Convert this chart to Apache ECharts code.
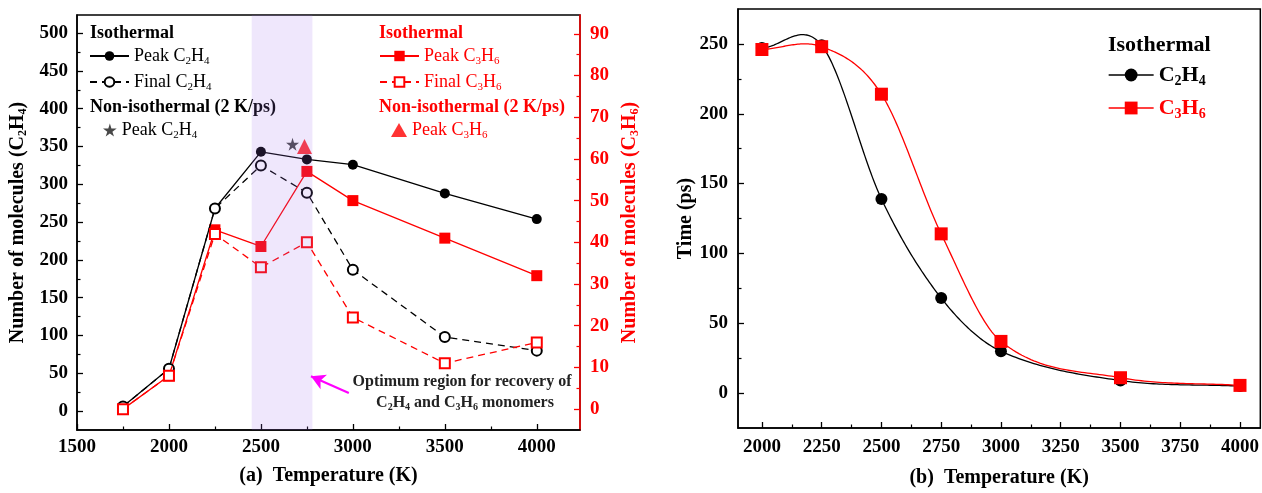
<!DOCTYPE html>
<html>
<head>
<meta charset="utf-8">
<script src="https://cdn.jsdelivr.net/npm/echarts@6/dist/echarts.min.js"></script>
<style>
  html, body { margin: 0; padding: 0; background: #fff; }
  #chart { width: 1262px; height: 493px; }
</style>
</head>
<body>
<div id="chart"></div>
<script>
// ---- Panel (a): molecule counts vs temperature ----
const temperaturesA = [1750, 2000, 2250, 2500, 2750, 3000, 3500, 4000];
const peakC2H4  = [6, 56, 268, 343, 333, 326, 288, 254];
const finalC2H4 = [6, 56, 268, 325, 289, 187, 98, 80];
const peakC3H6  = [0, 8, 43, 39, 57, 50, 41, 32];
const finalC3H6 = [0, 8, 42, 34, 40, 22, 11, 16];
const nonIsoPeakC2H4 = [[2672, 353]];
const nonIsoPeakC3H6 = [[2737, 63]];
const optimumRange = [2450, 2780];
const optimumArrow = [[2978, 24], [2772, 46]];

// ---- Panel (b): time vs temperature ----
const temperaturesB = [2000, 2250, 2500, 2750, 3000, 3500, 4000];
const timeC2H4 = [247, 249, 139, 68, 30, 9, 5];
const timeC3H6 = [246, 248, 214, 114, 37, 11, 5.5];

// ---- Tick values ----
const xTicksA = [1500, 2000, 2500, 3000, 3500, 4000];
const xMinorA = [1750, 2250, 2750, 3250, 3750];
const yTicksA = [0, 50, 100, 150, 200, 250, 300, 350, 400, 450, 500];
const yMinorA = [25, 75, 125, 175, 225, 275, 325, 375, 425, 475];
const y2TicksA = [0, 10, 20, 30, 40, 50, 60, 70, 80, 90];
const y2MinorA = [5, 15, 25, 35, 45, 55, 65, 75, 85];
const xTicksB = [2000, 2250, 2500, 2750, 3000, 3250, 3500, 3750, 4000];
const xMinorB = [2125, 2375, 2625, 2875, 3125, 3375, 3625, 3875];
const yTicksB = [0, 50, 100, 150, 200, 250];
const yMinorB = [25, 75, 125, 175, 225];

const SERIF = "'Liberation Serif', 'Times New Roman', serif";
const RED = '#ff0000';
const BLACK = '#000000';

const zipXY = (xs, ys) => xs.map((x, i) => [x, ys[i]]);

function richSet(size, color, weight) {
  const sub = Math.round(size * 0.62);
  return {
    t: { fontFamily: SERIF, fontSize: size, fontWeight: weight, color: color },
    s: { fontFamily: SERIF, fontSize: sub, fontWeight: weight, color: color, padding: [Math.round(size * 0.55), 0, 0, 0] }
  };
}
// "C2H4" -> rich text with subscripts
function chem(formulaText) {
  return formulaText.replace(/([A-Za-z\(\) \/]+)|(\d+)/g, (m, word, num) => word ? '{t|' + word + '}' : '{s|' + num + '}');
}

// Cubic Hermite (Catmull-Rom style) spline through the measured points
function hermiteSpline(xs, ys) {
  const n = xs.length - 1;
  const m = xs.map((x, i) => {
    if (i === 0) return (ys[1] - ys[0]) / (xs[1] - xs[0]);
    if (i === n) return (ys[n] - ys[n - 1]) / (xs[n] - xs[n - 1]);
    return (ys[i + 1] - ys[i - 1]) / (xs[i + 1] - xs[i - 1]);
  });
  return function (x) {
    let i = 0;
    while (i < n - 1 && x > xs[i + 1]) i++;
    const h = xs[i + 1] - xs[i];
    const t = (x - xs[i]) / h, t2 = t * t, t3 = t2 * t;
    return (2 * t3 - 3 * t2 + 1) * ys[i] + (t3 - 2 * t2 + t) * h * m[i]
      + (-2 * t3 + 3 * t2) * ys[i + 1] + (t3 - t2) * h * m[i + 1];
  };
}

function splineSeries(xs, ys, color, xIdx, yIdx) {
  const f = hermiteSpline(xs, ys);
  return {
    type: 'custom', xAxisIndex: xIdx, yAxisIndex: yIdx, z: 1, silent: true,
    data: zipXY(xs, ys),
    renderItem: function (params, api) {
      if (params.dataIndex !== 0) return;
      const pts = [];
      for (let i = 0; i < xs.length - 1; i++) {
        const steps = 40;
        for (let k = 0; k < steps; k++) {
          const x = xs[i] + (xs[i + 1] - xs[i]) * k / steps;
          pts.push(api.coord([x, f(x)]));
        }
      }
      pts.push(api.coord([xs[xs.length - 1], ys[ys.length - 1]]));
      return { type: 'polyline', shape: { points: pts }, style: { stroke: color, lineWidth: 1.3, fill: null } };
    }
  };
}

function mainAxis(extra, color, labelMargin, ticks) {
  return Object.assign({
    type: 'value',
    axisLine: { show: true, onZero: false, lineStyle: { color: color, width: 1.5 } },
    axisTick: { show: true, inside: true, length: 6, customValues: ticks, lineStyle: { color: color, width: 1.3 } },
    axisLabel: { customValues: ticks, margin: labelMargin, color: color, fontFamily: SERIF, fontWeight: 'bold', fontSize: 19,
      formatter: v => String(v) },
    splitLine: { show: false }
  }, extra);
}
function minorAxis(extra, color, ticks) {
  return Object.assign({
    type: 'value',
    axisLine: { show: false, onZero: false },
    axisTick: { show: true, inside: true, length: 3.5, customValues: ticks, lineStyle: { color: color, width: 1.2 } },
    axisLabel: { show: false },
    splitLine: { show: false }
  }, extra);
}

const legendText = {
  'Peak C2H4 iso': chem('Peak C2H4'),
  'Final C2H4 iso': chem('Final C2H4'),
  'Peak C2H4 noniso': chem('Peak C2H4'),
  'Peak C3H6 iso': chem('Peak C3H6'),
  'Final C3H6 iso': chem('Final C3H6'),
  'Peak C3H6 noniso': chem('Peak C3H6'),
  'C2H4 time': chem('C2H4'),
  'C3H6 time': chem('C3H6')
};

function legendItem(name, left, top, color, size, itemW, itemH, weight, lineStyle) {
  const lg = {
    data: [name], left: left, top: top, orient: 'vertical', padding: 0,
    itemWidth: itemW, itemHeight: itemH, selectedMode: false,
    formatter: n => legendText[n],
    textStyle: { color: color, fontFamily: SERIF, fontSize: size, fontWeight: weight, rich: richSet(size, color, weight) }
  };
  if (lineStyle) lg.lineStyle = lineStyle;
  return lg;
}

function headerText(text, x, y, color, size) {
  return {
    type: 'text', x: x, y: y, z: 0,
    style: { text: text, fill: color, fontFamily: SERIF, fontWeight: 'bold', fontSize: size, verticalAlign: 'middle' }
  };
}

const starPath = 'path://M50,0 L61,35 L98,35 L68,57 L79,91 L50,70 L21,91 L32,57 L2,35 L39,35 Z';

const option = {
  backgroundColor: '#fff',
  animation: false,
  grid: [
    { left: 77, top: 15, width: 503, height: 415, show: true, borderColor: BLACK, borderWidth: 1.5 },
    { left: 738, top: 9, width: 523, height: 426, show: true, borderColor: BLACK, borderWidth: 1.5 }
  ],
  xAxis: [
    mainAxis({ gridIndex: 0, position: 'bottom', min: 1500, max: 4235,
      name: '(a)  Temperature (K)', nameLocation: 'middle', nameGap: 36,
      nameTextStyle: { fontFamily: SERIF, fontWeight: 'bold', fontSize: 20, color: BLACK } }, BLACK, 8, xTicksA),
    minorAxis({ gridIndex: 0, position: 'bottom', min: 1500, max: 4235 }, BLACK, xMinorA),
    mainAxis({ gridIndex: 1, position: 'bottom', min: 1900, max: 4085,
      name: '(b)  Temperature (K)', nameLocation: 'middle', nameGap: 40,
      nameTextStyle: { fontFamily: SERIF, fontWeight: 'bold', fontSize: 20, color: BLACK } }, BLACK, 10, xTicksB),
    minorAxis({ gridIndex: 1, position: 'bottom', min: 1900, max: 4085 }, BLACK, xMinorB)
  ],
  yAxis: [
    mainAxis({ gridIndex: 0, position: 'left', min: -25, max: 524,
      name: chem('Number of molecules (C2H4)'), nameLocation: 'middle', nameGap: 48,
      nameTextStyle: { rich: richSet(20, BLACK, 'bold') } }, BLACK, 9, yTicksA),
    minorAxis({ gridIndex: 0, position: 'left', min: -25, max: 524 }, BLACK, yMinorA),
    mainAxis({ gridIndex: 0, position: 'right', min: -5, max: 94.5,
      name: chem('Number of molecules (C3H6)'), nameLocation: 'middle', nameGap: 38,
      nameTextStyle: { rich: richSet(20, RED, 'bold') } }, RED, 10, y2TicksA),
    minorAxis({ gridIndex: 0, position: 'right', min: -5, max: 94.5 }, RED, y2MinorA),
    mainAxis({ gridIndex: 1, position: 'left', min: -25, max: 275,
      name: 'Time (ps)', nameLocation: 'middle', nameGap: 42,
      nameTextStyle: { fontFamily: SERIF, fontWeight: 'bold', fontSize: 20, color: BLACK } }, BLACK, 10, yTicksB),
    minorAxis({ gridIndex: 1, position: 'left', min: -25, max: 275 }, BLACK, yMinorB)
  ],
  legend: [
    legendItem('Peak C2H4 iso', 89, 47, BLACK, 18, 39, 12, 'normal'),
    legendItem('Final C2H4 iso', 89, 73, BLACK, 18, 39, 12, 'normal'),
    legendItem('Peak C2H4 noniso', 103, 121, BLACK, 18, 14, 13, 'normal'),
    legendItem('Peak C3H6 iso', 379, 47, RED, 18, 39, 13, 'normal'),
    legendItem('Final C3H6 iso', 379, 73, RED, 18, 39, 12, 'normal'),
    legendItem('Peak C3H6 noniso', 391, 121, RED, 18, 16, 14, 'normal'),
    legendItem('C2H4 time', 1108, 64, BLACK, 22, 45, 16, 'bold', { color: BLACK, width: 1.3, opacity: 1 }),
    legendItem('C3H6 time', 1108, 97, RED, 22, 45, 16, 'bold', { color: RED, width: 1.3, opacity: 1 })
  ],
  graphic: [
    headerText('Isothermal', 90, 33, BLACK, 18),
    headerText('Non-isothermal (2 K/ps)', 90, 107, BLACK, 18),
    headerText('Isothermal', 379, 33, RED, 18),
    headerText('Non-isothermal (2 K/ps)', 379, 107, RED, 18),
    headerText('Isothermal', 1108, 45, BLACK, 22),
    {
      type: 'text', x: 462, y: 382, z: 0,
      style: { text: 'Optimum region for recovery of', fill: '#222', fontFamily: SERIF, fontWeight: 'bold', fontSize: 16, align: 'center', verticalAlign: 'middle' }
    },
    {
      type: 'text', x: 465, y: 403, z: 0,
      style: { text: chem('C2H4 and C3H6 monomers'), fill: '#222', align: 'center', verticalAlign: 'middle', rich: richSet(16, '#222', 'bold') }
    }
  ],
  series: [
    {
      name: 'Peak C2H4 iso', type: 'line', xAxisIndex: 0, yAxisIndex: 0, z: 2,
      data: zipXY(temperaturesA, peakC2H4),
      symbol: 'circle', symbolSize: 10,
      itemStyle: { color: BLACK },
      lineStyle: { color: BLACK, width: 1.3 }
    },
    {
      name: 'Final C2H4 iso', type: 'line', xAxisIndex: 0, yAxisIndex: 0, z: 4,
      data: zipXY(temperaturesA, finalC2H4),
      symbol: 'emptyCircle', symbolSize: 10,
      itemStyle: { color: BLACK, borderWidth: 1.8 },
      lineStyle: { color: BLACK, width: 1.3, type: [7, 5] }
    },
    {
      name: 'Peak C3H6 iso', type: 'line', xAxisIndex: 0, yAxisIndex: 2, z: 3,
      data: zipXY(temperaturesA, peakC3H6),
      symbol: 'rect', symbolSize: 11,
      itemStyle: { color: RED },
      lineStyle: { color: RED, width: 1.3 }
    },
    {
      name: 'Final C3H6 iso', type: 'line', xAxisIndex: 0, yAxisIndex: 2, z: 5,
      data: zipXY(temperaturesA, finalC3H6),
      symbol: 'emptyRect', symbolSize: 10,
      itemStyle: { color: RED, borderWidth: 1.8 },
      lineStyle: { color: RED, width: 1.3, type: [7, 5] }
    },
    {
      name: 'Peak C2H4 noniso', type: 'scatter', xAxisIndex: 0, yAxisIndex: 0, z: 3,
      data: nonIsoPeakC2H4, symbol: starPath, symbolSize: 13,
      itemStyle: { color: '#1a1a1a' }
    },
    {
      name: 'Peak C3H6 noniso', type: 'scatter', xAxisIndex: 0, yAxisIndex: 2, z: 3,
      data: nonIsoPeakC3H6, symbol: 'triangle', symbolSize: 15,
      itemStyle: { color: RED }
    },
    {
      name: 'optimum', type: 'line', xAxisIndex: 0, yAxisIndex: 0, data: [], z: 1,
      markArea: {
        silent: true, z: 10,
        itemStyle: { color: 'rgba(160,110,240,0.17)' },
        data: [[{ xAxis: optimumRange[0] }, { xAxis: optimumRange[1] }]]
      },
      markLine: {
        silent: true, z: 11,
        symbol: ['none', 'arrow'], symbolSize: [12, 14],
        label: { show: false },
        lineStyle: { color: '#ff00ff', width: 2.2, type: 'solid' },
        data: [[{ coord: optimumArrow[0] }, { coord: optimumArrow[1] }]]
      }
    },
    splineSeries(temperaturesB, timeC2H4, BLACK, 2, 4),
    splineSeries(temperaturesB, timeC3H6, RED, 2, 4),
    {
      name: 'C2H4 time', type: 'line', xAxisIndex: 2, yAxisIndex: 4, z: 3,
      data: zipXY(temperaturesB, timeC2H4),
      symbol: 'circle', symbolSize: 12,
      itemStyle: { color: BLACK },
      lineStyle: { color: BLACK, width: 1.3, opacity: 0 }
    },
    {
      name: 'C3H6 time', type: 'line', xAxisIndex: 2, yAxisIndex: 4, z: 4,
      data: zipXY(temperaturesB, timeC3H6),
      symbol: 'rect', symbolSize: 13,
      itemStyle: { color: RED },
      lineStyle: { color: RED, width: 1.3, opacity: 0 }
    }
  ]
};

const chart = echarts.init(document.getElementById('chart'), null, { renderer: 'canvas' });
chart.setOption(option);
</script>
</body>
</html>
